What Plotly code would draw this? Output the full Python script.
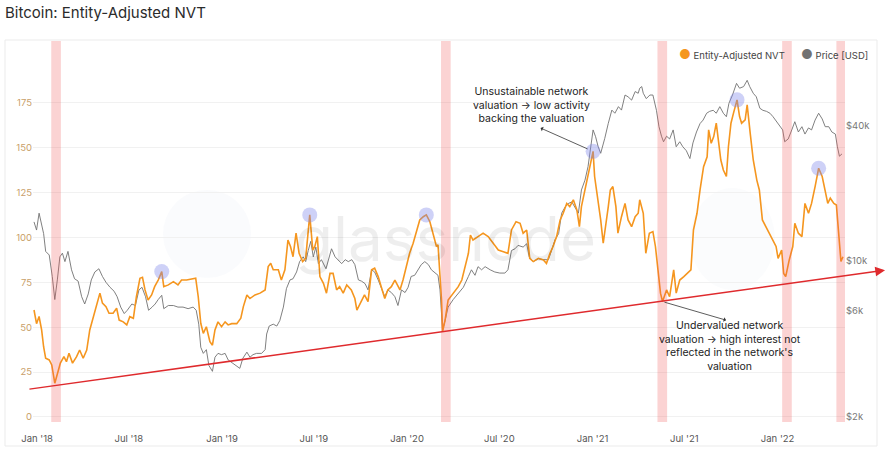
import pandas as pd
import plotly.graph_objects as go

# Entity-Adjusted NVT (left axis)
NVT_DATES = [
    "2017-12-26", "2017-12-31", "2018-01-05", "2018-01-10", "2018-01-14", "2018-01-18", "2018-01-25",
    "2018-01-30", "2018-02-05", "2018-02-10", "2018-02-16", "2018-02-23", "2018-02-28", "2018-03-05",
    "2018-03-12", "2018-03-20", "2018-03-26", "2018-04-02", "2018-04-09", "2018-04-15", "2018-04-22",
    "2018-04-30", "2018-05-05", "2018-05-10", "2018-05-17", "2018-05-23", "2018-05-31", "2018-06-07",
    "2018-06-12", "2018-06-20", "2018-06-27", "2018-07-03", "2018-07-10", "2018-07-16", "2018-07-23",
    "2018-07-28", "2018-08-02", "2018-08-08", "2018-08-15", "2018-08-21", "2018-08-28", "2018-09-04",
    "2018-09-08", "2018-09-17", "2018-09-27", "2018-10-06", "2018-10-13", "2018-10-23", "2018-11-02",
    "2018-11-10", "2018-11-15", "2018-11-20", "2018-11-25", "2018-12-01", "2018-12-08", "2018-12-13",
    "2018-12-18", "2018-12-24", "2018-12-31", "2019-01-07", "2019-01-13", "2019-01-20", "2019-01-30",
    "2019-02-07", "2019-02-12", "2019-02-19", "2019-02-25", "2019-03-07", "2019-03-17", "2019-03-27",
    "2019-04-02", "2019-04-07", "2019-04-12", "2019-04-22", "2019-04-28", "2019-05-05", "2019-05-11",
    "2019-05-16", "2019-05-21", "2019-05-27", "2019-06-02", "2019-06-09", "2019-06-15", "2019-06-20",
    "2019-06-23", "2019-06-29", "2019-07-03", "2019-07-08", "2019-07-13", "2019-07-20", "2019-07-26",
    "2019-08-02", "2019-08-08", "2019-08-15", "2019-08-21", "2019-08-28", "2019-09-04", "2019-09-13",
    "2019-09-20", "2019-09-24", "2019-10-03", "2019-10-09", "2019-10-16", "2019-10-23", "2019-10-29",
    "2019-11-05", "2019-11-11", "2019-11-18", "2019-11-24", "2019-12-01", "2019-12-08", "2019-12-18",
    "2019-12-24", "2019-12-31", "2020-01-06", "2020-01-13", "2020-01-20", "2020-01-26", "2020-02-02",
    "2020-02-08", "2020-02-15", "2020-02-21", "2020-02-28", "2020-03-02", "2020-03-06", "2020-03-09",
    "2020-03-11", "2020-03-16", "2020-03-22", "2020-04-01", "2020-04-11", "2020-04-18", "2020-04-24",
    "2020-05-01", "2020-05-05", "2020-05-10", "2020-05-20", "2020-05-30", "2020-06-09", "2020-06-19",
    "2020-06-29", "2020-07-09", "2020-07-18", "2020-07-25", "2020-08-03", "2020-08-11", "2020-08-17",
    "2020-08-24", "2020-08-30", "2020-09-06", "2020-09-16", "2020-09-26", "2020-10-02", "2020-10-09",
    "2020-10-15", "2020-10-22", "2020-10-29", "2020-11-04", "2020-11-11", "2020-11-17", "2020-11-24",
    "2020-12-01", "2020-12-06", "2020-12-10", "2020-12-17", "2020-12-23", "2020-12-28", "2021-01-02",
    "2021-01-05", "2021-01-09", "2021-01-12", "2021-01-17", "2021-01-22", "2021-01-27", "2021-02-01",
    "2021-02-05", "2021-02-10", "2021-02-16", "2021-02-20", "2021-02-27", "2021-03-06", "2021-03-12",
    "2021-03-19", "2021-03-26", "2021-04-01", "2021-04-04", "2021-04-11", "2021-04-16", "2021-04-23",
    "2021-04-30", "2021-05-05", "2021-05-10", "2021-05-15", "2021-05-19", "2021-05-27", "2021-06-02",
    "2021-06-10", "2021-06-15", "2021-06-22", "2021-06-30", "2021-07-07", "2021-07-14", "2021-07-19",
    "2021-07-26", "2021-08-01", "2021-08-08", "2021-08-15", "2021-08-18", "2021-08-23", "2021-08-28",
    "2021-09-02", "2021-09-07", "2021-09-11", "2021-09-16", "2021-09-22", "2021-09-26", "2021-10-01",
    "2021-10-06", "2021-10-13", "2021-10-18", "2021-10-22", "2021-10-29", "2021-11-02", "2021-11-08",
    "2021-11-14", "2021-11-21", "2021-11-26", "2021-12-02", "2021-12-09", "2021-12-15", "2021-12-22",
    "2021-12-29", "2022-01-02", "2022-01-09", "2022-01-13", "2022-01-17", "2022-01-24", "2022-01-31",
    "2022-02-04", "2022-02-11", "2022-02-18", "2022-02-24", "2022-03-03", "2022-03-09", "2022-03-16",
    "2022-03-23", "2022-03-30", "2022-04-05", "2022-04-10", "2022-04-15", "2022-04-22", "2022-04-27",
    "2022-05-02", "2022-05-06", "2022-05-10",
]
NVT_VALUES = [
    59.6, 52, 56, 48.5, 39, 32.7, 31.8,
    29, 18.8, 23.4, 30, 33.6, 30.8, 35.5,
    30, 33.6, 37.3, 32.7, 37.3, 48.5, 55.9,
    65.2, 69, 63.4, 61.5, 57.8, 57.8, 60.6,
    54, 53, 51.3, 55.9, 55, 67, 77.3,
    77.8, 70.8, 65.2, 68, 72.6, 76.3, 81,
    72.6, 73.6, 75.4, 73.6, 76.3, 76.3, 76.7,
    77.3, 67, 52.2, 46.6, 50.3, 42, 40,
    48.5, 53, 50.3, 53, 51.3, 52, 52,
    55, 61.5, 68, 66, 68, 69, 70.8,
    83.8, 85.6, 82, 82, 76.3, 82, 98.6,
    95, 89.3, 102.4, 91.2, 86.6, 88.4, 104.2,
    112.6, 93, 95, 100.5, 78.2, 74.5, 69,
    80, 80, 70.8, 72.6, 69, 73.6, 70.8,
    66, 59.6, 65.2, 68, 64.3, 82, 82.9,
    78.2, 72.6, 66, 70.8, 72.6, 76.3, 70.8,
    76.3, 83.8, 91.2, 96.8, 104.2, 109.8, 111.6,
    112.6, 108.8, 102.4, 95, 96, 80, 65.2,
    47.5, 54, 65.2, 69, 72.6, 76.3, 83.8,
    91.2, 101.4, 98.6, 100.5, 102.4, 100.5, 96.8,
    93, 92.1, 91.2, 104.2, 108.8, 107.9, 102.4,
    104.2, 88.4, 86.6, 88.4, 87.5, 85.6, 91.2,
    95, 100.5, 109.8, 113.5, 119, 117.2, 121,
    115.4, 106, 117.2, 126.5, 134, 139.5, 148,
    134, 126.5, 119, 109.8, 96.8, 106, 117.2,
    126.5, 128.4, 117.2, 102.4, 111.6, 119, 109.8,
    106, 111.6, 113.5, 121, 113.5, 91.2, 102.4,
    103.3, 95, 82, 69, 64.3, 70.8, 67,
    82, 69, 76.3, 78.2, 80, 82, 104.2,
    113.5, 126.5, 139.5, 145, 160, 152.5, 156.2,
    163.7, 150.6, 143.2, 137.6, 134, 150.6, 163.7,
    169.3, 176.7, 167.4, 163.7, 165.5, 173.9, 158,
    143.2, 132, 126.5, 109.8, 106, 102.4, 98.6,
    95, 88.4, 93, 80, 78.2, 87.5, 95,
    107.9, 102.4, 100.5, 119, 113.5, 119, 128.4,
    138.6, 134, 124.6, 119, 121.9, 119, 118.1,
    102.4, 86.6, 89.3,
]

# BTC price in USD (right axis, log)
PRICE_DATES = [
    "2017-12-26", "2017-12-31", "2018-01-05", "2018-01-10", "2018-01-14", "2018-01-18", "2018-01-25",
    "2018-01-31", "2018-02-05", "2018-02-10", "2018-02-15", "2018-02-20", "2018-02-25", "2018-03-03",
    "2018-03-10", "2018-03-16", "2018-03-23", "2018-03-30", "2018-04-05", "2018-04-12", "2018-04-18",
    "2018-04-25", "2018-05-03", "2018-05-10", "2018-05-17", "2018-05-25", "2018-06-02", "2018-06-08",
    "2018-06-15", "2018-06-22", "2018-06-28", "2018-07-07", "2018-07-14", "2018-07-21", "2018-07-27",
    "2018-08-03", "2018-08-09", "2018-08-16", "2018-08-22", "2018-08-28", "2018-09-04", "2018-09-08",
    "2018-09-17", "2018-09-27", "2018-10-06", "2018-10-16", "2018-10-26", "2018-11-05", "2018-11-11",
    "2018-11-16", "2018-11-20", "2018-11-25", "2018-12-01", "2018-12-06", "2018-12-13", "2018-12-18",
    "2018-12-24", "2018-12-31", "2019-01-07", "2019-01-13", "2019-01-20", "2019-01-30", "2019-02-05",
    "2019-02-11", "2019-02-19", "2019-02-25", "2019-03-03", "2019-03-10", "2019-03-20", "2019-03-27",
    "2019-03-30", "2019-04-04", "2019-04-12", "2019-04-19", "2019-04-25", "2019-05-02", "2019-05-08",
    "2019-05-15", "2019-05-21", "2019-05-28", "2019-06-03", "2019-06-10", "2019-06-15", "2019-06-20",
    "2019-06-25", "2019-06-30", "2019-07-05", "2019-07-10", "2019-07-16", "2019-07-25", "2019-07-31",
    "2019-08-05", "2019-08-12", "2019-08-18", "2019-08-25", "2019-09-01", "2019-09-07", "2019-09-14",
    "2019-09-20", "2019-09-27", "2019-10-03", "2019-10-10", "2019-10-16", "2019-10-23", "2019-10-29",
    "2019-11-05", "2019-11-11", "2019-11-18", "2019-11-24", "2019-12-01", "2019-12-08", "2019-12-14",
    "2019-12-21", "2019-12-28", "2020-01-03", "2020-01-09", "2020-01-16", "2020-01-23", "2020-01-29",
    "2020-02-05", "2020-02-12", "2020-02-18", "2020-02-25", "2020-03-02", "2020-03-06", "2020-03-09",
    "2020-03-11", "2020-03-16", "2020-03-22", "2020-04-01", "2020-04-11", "2020-04-21", "2020-05-01",
    "2020-05-07", "2020-05-14", "2020-05-20", "2020-05-27", "2020-06-03", "2020-06-13", "2020-06-22",
    "2020-07-02", "2020-07-12", "2020-07-18", "2020-07-25", "2020-08-01", "2020-08-07", "2020-08-17",
    "2020-08-24", "2020-08-29", "2020-09-06", "2020-09-16", "2020-09-26", "2020-10-06", "2020-10-12",
    "2020-10-19", "2020-10-26", "2020-11-01", "2020-11-08", "2020-11-14", "2020-11-21", "2020-11-27",
    "2020-12-04", "2020-12-10", "2020-12-17", "2020-12-23", "2020-12-28", "2021-01-02", "2021-01-07",
    "2021-01-12", "2021-01-17", "2021-01-21", "2021-01-25", "2021-02-01", "2021-02-08", "2021-02-14",
    "2021-02-21", "2021-02-27", "2021-03-06", "2021-03-12", "2021-03-19", "2021-03-26", "2021-04-01",
    "2021-04-04", "2021-04-08", "2021-04-11", "2021-04-17", "2021-04-24", "2021-04-30", "2021-05-07",
    "2021-05-12", "2021-05-17", "2021-05-21", "2021-05-27", "2021-06-02", "2021-06-09", "2021-06-15",
    "2021-06-22", "2021-06-28", "2021-07-05", "2021-07-12", "2021-07-18", "2021-07-25", "2021-08-01",
    "2021-08-07", "2021-08-14", "2021-08-20", "2021-08-27", "2021-09-02", "2021-09-09", "2021-09-16",
    "2021-09-22", "2021-09-27", "2021-10-04", "2021-10-12", "2021-10-18", "2021-10-26", "2021-11-02",
    "2021-11-07", "2021-11-14", "2021-11-20", "2021-11-27", "2021-12-03", "2021-12-10", "2021-12-17",
    "2021-12-23", "2021-12-30", "2022-01-05", "2022-01-11", "2022-01-15", "2022-01-22", "2022-01-29",
    "2022-02-04", "2022-02-11", "2022-02-18", "2022-02-24", "2022-03-03", "2022-03-09", "2022-03-16",
    "2022-03-23", "2022-03-30", "2022-04-05", "2022-04-12", "2022-04-18", "2022-04-25", "2022-04-29",
    "2022-05-03", "2022-05-08",
]
PRICE_USD = [
    14900, 13700, 16300, 14200, 13200, 11000, 10600,
    8500, 6700, 8200, 10400, 10800, 9900, 11000,
    9100, 8300, 8100, 6900, 6400, 7100, 8200,
    8900, 9200, 8500, 8000, 7600, 7300, 6900,
    6200, 5800, 6000, 6400, 6300, 7400, 7600,
    6900, 6000, 6200, 6400, 6700, 7000, 6100,
    6300, 6300, 6200, 6200, 6100, 6200, 6000,
    5200, 4100, 3850, 4000, 3400, 3200, 3700,
    3850, 3800, 3850, 3600, 3500, 3360, 3300,
    3660, 3900, 3700, 3800, 3850, 3850, 4000,
    4700, 5100, 5200, 5100, 5400, 6200, 7500,
    8200, 8300, 8900, 9900, 10400, 9900, 11100,
    12200, 10400, 11500, 9700, 10100, 9200, 10400,
    11300, 10400, 10100, 9700, 10100, 9900, 10100,
    9600, 8200, 8100, 7900, 7400, 9100, 8900,
    8200, 7600, 6900, 7400, 7200, 6900, 6300,
    7400, 7200, 7600, 8500, 8600, 9100, 9600,
    9900, 9600, 9100, 8800, 8600, 7400, 5600,
    4900, 5400, 6200, 6700, 7100, 7600, 8500,
    9100, 8600, 9400, 9100, 9400, 9100, 8900,
    8800, 8800, 9100, 11100, 11300, 11700, 11500,
    11900, 10400, 9900, 10200, 10100, 10100, 11100,
    12400, 13200, 16300, 17400, 18000, 18300, 17400,
    16300, 20700, 22900, 26300, 32300, 38400, 35800,
    32300, 30200, 32300, 35200, 41100, 47100, 45600,
    48800, 47100, 55000, 54000, 52200, 57000, 56000,
    59000, 60000, 56000, 53000, 55000, 55000, 47000,
    39700, 36000, 34000, 36000, 35000, 38400, 32300,
    34000, 32300, 31000, 28600, 33600, 37600, 41000,
    42500, 45600, 46500, 47000, 45600, 48800, 45600,
    44000, 50500, 55000, 62000, 59000, 60000, 64000,
    60000, 56000, 54000, 48000, 47000, 46500, 45600,
    44000, 41800, 40300, 38400, 34000, 35000, 38400,
    41800, 37600, 39700, 36800, 39200, 38400, 42500,
    45600, 43000, 39700, 39700, 37600, 36800, 32300,
    29300, 30000,
]

# shaded drawdown windows
BAND_START = ["2018-01-29", "2020-03-08", "2021-05-09", "2022-01-10", "2022-04-27"]
BAND_END = ["2018-02-17", "2020-03-27", "2021-05-28", "2022-01-29", "2022-05-15"]

# highlighted NVT peaks
PEAK_DATES = ["2018-09-04", "2019-06-23", "2020-02-08", "2021-01-02", "2021-10-13", "2022-03-23"]
PEAK_NVT = [81, 112.6, 112.6, 148, 176.7, 138.6]

# rising support line (date, NVT)
TREND_START = ("2017-12-14", 15.4)
TREND_END = ("2022-08-01", 81.8)

X_TICKS = ["2018-01-01", "2018-07-01", "2019-01-01", "2019-07-01", "2020-01-01",
           "2020-07-01", "2021-01-01", "2021-07-01", "2022-01-01"]
X_TICK_TEXT = ["Jan '18", "Jul '18", "Jan '19", "Jul '19", "Jan '20",
               "Jul '20", "Jan '21", "Jul '21", "Jan '22"]
NVT_TICKS = [0, 25, 50, 75, 100, 125, 150, 175]
PRICE_TICKS = [2000, 6000, 10000, 40000]
PRICE_TICK_TEXT = ["$2k", "$6k", "$10k", "$40k"]

# layout
W, H = 890, 451
ML, MR, MT, MB = 33, 45, 41, 29
PW, PH = W - ML - MR, H - MT - MB
X_RANGE = ["2017-12-24", "2022-05-14"]
NVT_RANGE = [-2.8, 209.5]
PRICE_RANGE_LOG = [3.2787, 4.9819]
FONT = "Inter, Roboto, sans-serif"
ORANGE = "#f5961f"
GREY = "#727272"


def px_x(px):
    return (px - ML) / PW


def px_y(py):
    return (H - MB - py) / PH


def date_to_paper(d):
    x0, x1 = pd.Timestamp(X_RANGE[0]), pd.Timestamp(X_RANGE[1])
    return (pd.Timestamp(d) - x0) / (x1 - x0)


def nvt_to_paper(v):
    return (v - NVT_RANGE[0]) / (NVT_RANGE[1] - NVT_RANGE[0])


fig = go.Figure()

# price on the base axis (drawn below), NVT on the overlaying axis (drawn above)
fig.add_trace(go.Scatter(
    x=PRICE_DATES, y=PRICE_USD, mode="lines", yaxis="y", name="Price [USD]",
    line=dict(color=GREY, width=0.9), showlegend=False))
fig.add_trace(go.Scatter(
    x=NVT_DATES, y=NVT_VALUES, mode="lines", yaxis="y2", name="Entity-Adjusted NVT",
    line=dict(color=ORANGE, width=1.6), showlegend=False))
fig.add_trace(go.Scatter(
    x=PEAK_DATES, y=PEAK_NVT, mode="markers", yaxis="y2", hoverinfo="skip",
    marker=dict(size=15, color="rgba(125,135,235,0.38)"), showlegend=False))

for s, e in zip(BAND_START, BAND_END):
    fig.add_vrect(x0=s, x1=e, fillcolor="rgba(240,80,80,0.25)", line_width=0, layer="above")

# card frame + watermark
fig.add_shape(type="rect", xref="paper", yref="paper",
              x0=px_x(5), x1=px_x(877), y0=px_y(446), y1=px_y(40),
              line=dict(color="#ebebeb", width=1), layer="below")
fig.add_shape(type="circle", xref="paper", yref="paper",
              x0=px_x(163), x1=px_x(251), y0=px_y(278), y1=px_y(190),
              fillcolor="rgba(225,230,242,0.16)", line_width=0, layer="below")
fig.add_shape(type="circle", xref="paper", yref="paper",
              x0=px_x(690), x1=px_x(775), y0=px_y(290), y1=px_y(188),
              fillcolor="rgba(225,230,242,0.12)", line_width=0, layer="below")
fig.add_annotation(text="glassnode", xref="paper", yref="paper", x=px_x(445), y=px_y(238),
                   showarrow=False, font=dict(family=FONT, size=62, color="rgba(0,0,0,0.065)"))

# legend drawn as dot + label
fig.add_annotation(xref="paper", yref="paper", x=px_x(677), y=px_y(54),
                   xanchor="left", yanchor="middle", showarrow=False,
                   text=f"<span style='color:{ORANGE};font-size:13px'>●</span> Entity-Adjusted NVT",
                   font=dict(family=FONT, size=9.5, color="#444"))
fig.add_annotation(xref="paper", yref="paper", x=px_x(799), y=px_y(54),
                   xanchor="left", yanchor="middle", showarrow=False,
                   text=f"<span style='color:{GREY};font-size:13px'>●</span> Price [USD]",
                   font=dict(family=FONT, size=9.5, color="#444"))

# support trend arrow
sx, sy = date_to_paper(TREND_START[0]), nvt_to_paper(TREND_START[1])
ex, ey = date_to_paper(TREND_END[0]), nvt_to_paper(TREND_END[1])
fig.add_annotation(xref="paper", yref="paper", x=ex, y=ey, text="",
                   ax=(sx - ex) * PW, ay=-(sy - ey) * PH, showarrow=True,
                   arrowhead=2, arrowsize=1.3, arrowwidth=1.5, arrowcolor="#df2a2d")

# callouts
fig.add_annotation(x="2021-01-02", y=148, xref="x", yref="y2", text="", showarrow=True,
                   ax=-54, ay=-24, arrowside="start", arrowhead=2, arrowsize=0.9,
                   arrowwidth=0.8, arrowcolor="#333", standoff=6)
fig.add_annotation(x="2020-09-02", y=174, xref="x", yref="y2", showarrow=False,
                   text="Unsustainable network<br>valuation → low activity<br>backing the valuation",
                   font=dict(family=FONT, size=10.5, color="#222"), align="center")
fig.add_annotation(x="2021-05-19", y=64.3, xref="x", yref="y2", text="", showarrow=True,
                   ax=65, ay=19, arrowside="start", arrowhead=2, arrowsize=0.9,
                   arrowwidth=0.8, arrowcolor="#333", standoff=2)
fig.add_annotation(x="2021-09-29", y=39.6, xref="x", yref="y2", showarrow=False,
                   text="Undervalued network<br>valuation → high interest not<br>"
                        "reflected in the network's<br>valuation",
                   font=dict(family=FONT, size=10.5, color="#222"), align="center")

fig.update_layout(
    width=W, height=H,
    margin=dict(l=ML, r=MR, t=MT, b=MB, autoexpand=False),
    paper_bgcolor="white", plot_bgcolor="rgba(0,0,0,0)",
    font=dict(family=FONT, size=10, color="#555"),
    showlegend=False,
    title=dict(text="Bitcoin: Entity-Adjusted NVT", x=5 / W, xanchor="left",
               y=1 - 13 / H, yanchor="middle",
               font=dict(family=FONT, size=15, color="#2b2b2b")),
    xaxis=dict(type="date", range=X_RANGE, tickvals=X_TICKS, ticktext=X_TICK_TEXT,
               showgrid=False, zeroline=False, showline=False, automargin=False,
               ticks="outside", ticklen=8, tickcolor="rgba(0,0,0,0)",
               tickfont=dict(size=9.5, color="#555")),
    yaxis=dict(type="log", range=PRICE_RANGE_LOG, side="right", automargin=False,
               tickvals=PRICE_TICKS, ticktext=PRICE_TICK_TEXT,
               showgrid=False, zeroline=False, showline=False,
               tickfont=dict(size=9.5, color="#777")),
    yaxis2=dict(range=NVT_RANGE, overlaying="y", side="left", tickvals=NVT_TICKS,
                automargin=False,
                showgrid=True, gridcolor="#f1f1f1", zeroline=False, showline=False,
                tickfont=dict(size=9.5, color="#c9a06a")),
)

# page body has a default 8px margin; drop it so the figure sits at the window origin
fig.write_html("out.html", config={"displayModeBar": False},
               post_script="document.body.style.margin='0';")
